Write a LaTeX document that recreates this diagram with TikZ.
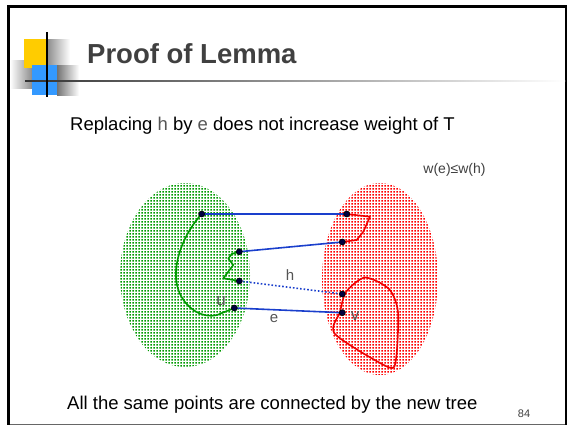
\documentclass[tikz,border=0pt]{standalone}
\usepackage{fontspec}
\setmainfont{Liberation Sans}
\usetikzlibrary{patterns}
\pgfdeclarepatternformonly{halftone}{\pgfqpoint{0pt}{0pt}}{\pgfqpoint{3pt}{3pt}}{\pgfqpoint{3pt}{3pt}}{\pgfpathrectangle{\pgfqpoint{0.5pt}{0.5pt}}{\pgfqpoint{2pt}{2pt}}\pgfusepath{fill}}
\definecolor{ttl}{HTML}{404040}
\definecolor{lbl}{HTML}{555555}
\definecolor{edgeblue}{HTML}{1A3FCC}
\definecolor{grn}{HTML}{009900}
\definecolor{rd}{HTML}{EE0000}
\definecolor{ylw}{HTML}{FFCC00}
\definecolor{blu}{HTML}{3399FF}
\tikzset{
  pt/.style={circle,draw=black,fill=black!75!blue,inner sep=0pt,minimum size=6pt,line width=0.6pt},
  edge/.style={draw=edgeblue,line width=1.6pt},
  hedge/.style={draw=edgeblue,line width=1.6pt,dotted},
  gpath/.style={draw=grn,line width=1.6pt,line join=round},
  rpath/.style={draw=rd,line width=1.6pt,line join=round},
  lab/.style={text=lbl,font=\fontsize{15}{15}\selectfont,inner sep=0pt},
}
\begin{document}
\begin{tikzpicture}[x=1pt,y=-1pt]
\useasboundingbox (0,0) rectangle (569,426);
% frame
\draw[black!60,line width=1pt] (8,424.5) -- (566,424.5);
\draw[black,line width=1.8pt] (566,6) -- (566,424.5);
\draw[black,line width=3pt] (7,6) -- (567,6);
\draw[black,line width=3pt] (8.5,6) -- (8.5,425);
% logo shadows
\shade[left color=white,right color=black!45] (10,60) rectangle (32,88);
\shade[left color=black!45,right color=white] (47,39) rectangle (70,65);
\shade[left color=black!55,right color=white] (57,65) rectangle (79,95);
\fill[ylw] (24,39) rectangle (47,68);
\fill[blu] (32,65) rectangle (57,95);
\shade[left color=black!80,right color=white] (25,80.4) rectangle (565,81.8);
\draw[black,line width=1.2pt] (47,32) -- (47,97);
% title
\node[anchor=base west,inner sep=0pt,text=ttl,font=\fontsize{27.5}{27.5}\selectfont\bfseries] (title) at (87,63) {Proof of Lemma};
\node[anchor=base west,inner sep=0pt,font=\fontsize{18.5}{18.5}\selectfont] (sub) at (70,130) {Replacing \textcolor{lbl}{h} by \textcolor{lbl}{e} does not increase weight of T};
\node[inner sep=0pt,text=ttl,font=\fontsize{14}{14}\selectfont] (ineq) at (454.5,170) {w(e)≤w(h)};
\node[anchor=base west,inner sep=0pt,font=\fontsize{18.5}{18.5}\selectfont] (foot) at (67,409) {All the same points are connected by the new tree};
\node[inner sep=0pt,text=ttl,font=\fontsize{11}{11}\selectfont] (pg) at (524,414) {84};
% ellipses
\path[pattern=halftone,pattern color=grn] (185,275) ellipse [x radius=65,y radius=92];
\path[pattern=halftone,pattern color=red] (380,279) ellipse [x radius=58,y radius=96];
% points
\coordinate (a1) at (201.7,214);
\coordinate (a2) at (239.3,251.7);
\coordinate (a3) at (239.3,281);
\coordinate (a4) at (234.3,308);
\coordinate (b1) at (346.7,214);
\coordinate (b2) at (342.3,242);
\coordinate (b3) at (342.3,294);
\coordinate (b4) at (342.3,312.7);
% green paths
\draw[gpath] (a1) .. controls (185,232) and (172,262) .. (177,285) .. controls (182,308) and (205,322) .. (222,313) -- (a4);
\draw[gpath] (a2) -- (231.7,254) -- (228.3,258.5) -- (233.3,265) -- (223.3,278.3) -- (a3);
% red paths
\draw[rpath] (b1) -- (370,216.7) -- (363.3,231.7) -- (356.7,240) -- (b2);
\draw[rpath] plot[smooth cycle,tension=0.45] coordinates {(365,277.5) (346,292) (340,312) (335,334) (388,367) (396,359) (398,312) (389,289)};
% edges
\draw[edge] (a1) -- (b1);
\draw[edge] (a2) -- (b2);
\draw[hedge] (a3) -- (b3);
\draw[edge] (a4) -- (b4);
\foreach \p in {a1,a2,a3,a4,b1,b2,b3,b4} \node[pt] (n\p) at (\p) {};
% labels
\node[lab] (hl) at (290,275) {h};
\node[lab] (el) at (274,319) {e};
\node[lab,font=\fontsize{17}{17}\selectfont] (ul) at (221,301) {u};
\node[lab,font=\fontsize{17}{17}\selectfont] (vl) at (355,316) {v};
\end{tikzpicture}
\end{document}
